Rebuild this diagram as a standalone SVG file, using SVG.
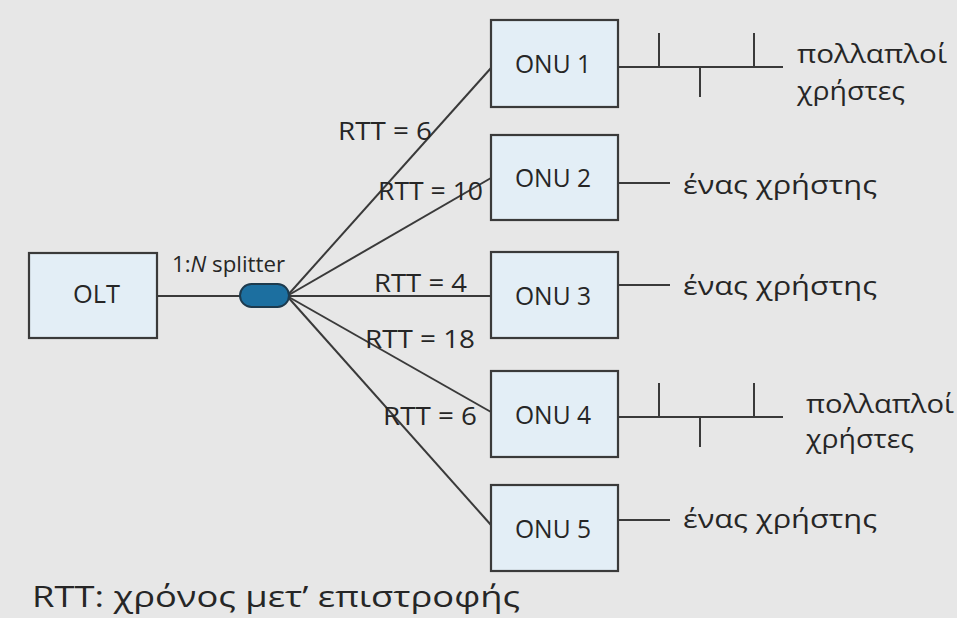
<svg xmlns="http://www.w3.org/2000/svg" width="957" height="618" viewBox="0 0 957 618">
  <style>
    .box { fill: #e3eef6; stroke: #3a3a3a; stroke-width: 2.2; }
    .wire { stroke: #3a3a3a; stroke-width: 2; fill: none; }
    .lbl { font-family: "Open Sans", "Liberation Sans", sans-serif; fill: #262626; }
    .node-t { font-size: 26px; }
    .rtt { font-size: 25px; }
    .usr { font-size: 25px; }
  </style>
  <rect width="957" height="618" fill="#e7e7e7"/>

  <g id="connectors">
    <line class="wire" x1="157" y1="296" x2="287" y2="296"/>
    <line class="wire" x1="287" y1="296" x2="491" y2="68"/>
    <line class="wire" x1="287" y1="296" x2="491" y2="178"/>
    <line class="wire" x1="287" y1="296" x2="491" y2="296"/>
    <line class="wire" x1="287" y1="296" x2="491" y2="412"/>
    <line class="wire" x1="287" y1="296" x2="491" y2="525"/>
    <!-- user drops -->
    <path class="wire" d="M618 67H783M659 67V33M700 67V97M754 67V33"/>
    <path class="wire" d="M618 183H670"/>
    <path class="wire" d="M618 285H670"/>
    <path class="wire" d="M618 417H783M659 417V383M700 417V447M754 417V383"/>
    <path class="wire" d="M618 520H670"/>
  </g>

  <g id="olt">
    <rect class="box" x="29" y="253" width="128" height="85"/>
    <text class="lbl node-t" x="73" y="303" textLength="47" lengthAdjust="spacingAndGlyphs">OLT</text>
  </g>

  <g id="splitter">
    <rect x="240" y="284" width="49" height="23" rx="11.5" fill="#1c6fa0" stroke="#1d3a4d" stroke-width="2"/>
    <text class="lbl" font-size="22" x="172" y="272" textLength="113" lengthAdjust="spacingAndGlyphs">1:<tspan font-style="italic">N</tspan> splitter</text>
  </g>

  <g id="onu1">
    <rect class="box" x="491" y="20" width="127" height="87"/>
    <text class="lbl node-t" x="515" y="73" textLength="76" lengthAdjust="spacingAndGlyphs">ONU 1</text>
  </g>
  <g id="onu2">
    <rect class="box" x="491" y="135" width="127" height="85"/>
    <text class="lbl node-t" x="515" y="187" textLength="76" lengthAdjust="spacingAndGlyphs">ONU 2</text>
  </g>
  <g id="onu3">
    <rect class="box" x="491" y="252" width="127" height="86"/>
    <text class="lbl node-t" x="515" y="305" textLength="76" lengthAdjust="spacingAndGlyphs">ONU 3</text>
  </g>
  <g id="onu4">
    <rect class="box" x="491" y="371" width="127" height="86"/>
    <text class="lbl node-t" x="515" y="424" textLength="76" lengthAdjust="spacingAndGlyphs">ONU 4</text>
  </g>
  <g id="onu5">
    <rect class="box" x="491" y="485" width="127" height="86"/>
    <text class="lbl node-t" x="515" y="538" textLength="76" lengthAdjust="spacingAndGlyphs">ONU 5</text>
  </g>

  <g id="rtt-labels">
    <text class="lbl rtt" x="338" y="140" textLength="94" lengthAdjust="spacingAndGlyphs">RTT = 6</text>
    <text class="lbl rtt" x="378" y="200" textLength="105" lengthAdjust="spacingAndGlyphs">RTT = 10</text>
    <text class="lbl rtt" x="374" y="292" textLength="93" lengthAdjust="spacingAndGlyphs">RTT = 4</text>
    <text class="lbl rtt" x="365" y="348" textLength="110" lengthAdjust="spacingAndGlyphs">RTT = 18</text>
    <text class="lbl rtt" x="383" y="425" textLength="94" lengthAdjust="spacingAndGlyphs">RTT = 6</text>
  </g>

  <g id="users">
    <text class="lbl usr" x="797" y="63" textLength="150" lengthAdjust="spacingAndGlyphs">πολλαπλοί</text>
    <text class="lbl usr" x="797" y="100" textLength="108" lengthAdjust="spacingAndGlyphs">χρήστες</text>
    <text class="lbl usr" x="683" y="194" textLength="194" lengthAdjust="spacingAndGlyphs">ένας χρήστης</text>
    <text class="lbl usr" x="683" y="295" textLength="194" lengthAdjust="spacingAndGlyphs">ένας χρήστης</text>
    <text class="lbl usr" x="806" y="413" textLength="148" lengthAdjust="spacingAndGlyphs">πολλαπλοί</text>
    <text class="lbl usr" x="806" y="448" textLength="108" lengthAdjust="spacingAndGlyphs">χρήστες</text>
    <text class="lbl usr" x="683" y="528" textLength="194" lengthAdjust="spacingAndGlyphs">ένας χρήστης</text>
  </g>

  <text class="lbl" x="32" y="607" font-size="29" textLength="488" lengthAdjust="spacingAndGlyphs">RTT: χρόνος μετ’ επιστροφής</text>
</svg>
